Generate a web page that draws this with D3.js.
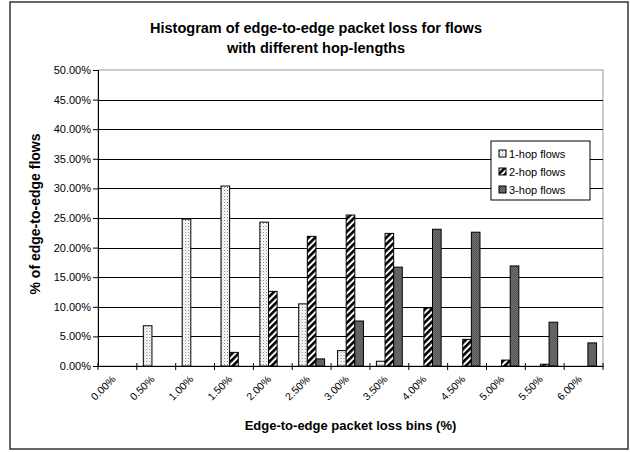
<!DOCTYPE html>
<html>
<head>
<meta charset="utf-8">
<script src="https://cdn.jsdelivr.net/npm/d3@7"></script>
<style>
  body { margin: 0; background: #fff; }
  text { font-family: "Liberation Sans", Arial, sans-serif; fill: #000; }
</style>
</head>
<body>
<div id="chart"></div>
<script>
// data (percent of flows)
var bins = ["0.00%", "0.50%", "1.00%", "1.50%", "2.00%", "2.50%", "3.00%",
            "3.50%", "4.00%", "4.50%", "5.00%", "5.50%", "6.00%"];
var seriesNames = ["1-hop flows", "2-hop flows", "3-hop flows"];
var hop1 = [0, 6.8, 24.8, 30.4, 24.3, 10.5, 2.6, 0.8, 0, 0, 0, 0, 0];
var hop2 = [0, 0, 0, 2.3, 12.6, 21.9, 25.5, 22.4, 9.8, 4.5, 1.0, 0.3, 0];
var hop3 = [0, 0, 0, 0, 0, 1.2, 7.6, 16.7, 23.1, 22.6, 16.9, 7.4, 3.9];
var yTicks = [0, 5, 10, 15, 20, 25, 30, 35, 40, 45, 50];

var W = 630, H = 452;
var margin = {top: 70, right: 27, bottom: 86, left: 98},
    width = W - margin.left - margin.right,
    height = H - margin.top - margin.bottom;

var svg = d3.select("#chart")
  .append("svg")
    .attr("width", W)
    .attr("height", H);

// fill patterns
var defs = svg.append("defs");

var p1 = defs.append("pattern").attr("id", "pat1")
  .attr("patternUnits", "userSpaceOnUse").attr("width", 3).attr("height", 3);
p1.append("rect").attr("width", 3).attr("height", 3).attr("fill", "#fff");
p1.append("rect").attr("x", 0).attr("y", 0).attr("width", 1).attr("height", 1).attr("fill", "#7a7a7a");
p1.append("rect").attr("x", 1.5).attr("y", 1.5).attr("width", 1).attr("height", 1).attr("fill", "#b0b0b0");

var p2 = defs.append("pattern").attr("id", "pat2")
  .attr("patternUnits", "userSpaceOnUse").attr("width", 4.6).attr("height", 10)
  .attr("patternTransform", "rotate(45)");
p2.append("rect").attr("width", 4.6).attr("height", 10).attr("fill", "#fff");
p2.append("rect").attr("width", 2.6).attr("height", 10).attr("fill", "#000");

var p3 = defs.append("pattern").attr("id", "pat3")
  .attr("patternUnits", "userSpaceOnUse").attr("width", 2).attr("height", 2);
p3.append("rect").attr("width", 2).attr("height", 2).attr("fill", "#777");
p3.append("rect").attr("width", 1).attr("height", 1).attr("fill", "#4e4e4e");
p3.append("rect").attr("x", 1).attr("y", 1).attr("width", 1).attr("height", 1).attr("fill", "#4e4e4e");

var fills = ["url(#pat1)", "url(#pat2)", "url(#pat3)"];

// outer chart frame
svg.append("rect")
  .attr("x", 10).attr("y", 2)
  .attr("width", W - 12).attr("height", H - 5)
  .attr("fill", "none")
  .attr("stroke", "#333")
  .attr("stroke-width", 1.5);

var g = svg.append("g")
  .attr("transform", "translate(" + margin.left + "," + margin.top + ")");

// scales
var x0 = d3.scaleBand()
  .domain(bins)
  .range([0, width])
  .paddingInner(1 / 3)
  .paddingOuter(1 / 6);

var x1 = d3.scaleBand()
  .domain(seriesNames)
  .range([0, x0.bandwidth()]);

var y = d3.scaleLinear()
  .domain([0, 50])
  .range([height, 0]);

// plot area border (grey top/right)
g.append("rect")
  .attr("width", width).attr("height", height)
  .attr("fill", "none")
  .attr("stroke", "#999")
  .attr("stroke-width", 1);

// gridlines
g.append("g")
  .selectAll("line")
  .data(yTicks.slice(1, -1))
  .enter().append("line")
    .attr("x1", 0).attr("x2", width)
    .attr("y1", function(d) { return Math.round(y(d)) + 0.5; })
    .attr("y2", function(d) { return Math.round(y(d)) + 0.5; })
    .attr("stroke", "#000")
    .attr("stroke-width", 1);

// bars
var rows = bins.map(function(b, i) {
  return {bin: b, values: [hop1[i], hop2[i], hop3[i]]};
});

var groups = g.append("g")
  .selectAll("g")
  .data(rows)
  .enter().append("g")
    .attr("transform", function(d) { return "translate(" + x0(d.bin) + ",0)"; });

groups.selectAll("rect")
  .data(function(d) {
    return d.values.map(function(v, k) { return {name: seriesNames[k], value: v, k: k}; })
      .filter(function(e) { return e.value > 0; });
  })
  .enter().append("rect")
    .attr("x", function(d) { return x1(d.name); })
    .attr("y", function(d) { return y(d.value); })
    .attr("width", x1.bandwidth())
    .attr("height", function(d) { return height - y(d.value); })
    .attr("fill", function(d) { return fills[d.k]; })
    .attr("stroke", "#000")
    .attr("stroke-width", 1);

// y axis
var yAxis = g.append("g")
  .call(d3.axisLeft(y)
    .tickValues(yTicks)
    .tickSize(5)
    .tickPadding(2)
    .tickFormat(function(d) { return d.toFixed(2) + "%"; }));
yAxis.select(".domain").attr("stroke", "#000");
yAxis.selectAll(".tick line").attr("stroke", "#000");
yAxis.selectAll("text")
  .style("font-size", "11px")
  .attr("fill", "#000");

// x axis: ticks on bin boundaries, labels under the bins
var xAxis = g.append("g")
  .attr("transform", "translate(0," + height + ")")
  .call(d3.axisBottom(x0).tickSize(0).tickFormat(function(d) { return d; }));
xAxis.select(".domain").attr("stroke", "#000");
xAxis.selectAll("text")
  .style("font-size", "10.5px")
  .attr("fill", "#000")
  .attr("text-anchor", "end")
  .attr("dy", null)
  .attr("y", 0)
  .attr("transform", "translate(-1,14) rotate(-45)");

xAxis.selectAll(".bound")
  .data(d3.range(bins.length + 1))
  .enter().append("line")
    .attr("class", "bound")
    .attr("x1", function(i) { return i * x0.step(); })
    .attr("x2", function(i) { return i * x0.step(); })
    .attr("y1", -3).attr("y2", 4)
    .attr("stroke", "#000");

// titles
svg.append("text")
  .attr("x", 316).attr("y", 33)
  .attr("text-anchor", "middle")
  .style("font-size", "14.5px").style("font-weight", "bold")
  .text("Histogram of edge-to-edge packet loss for flows");
svg.append("text")
  .attr("x", 316).attr("y", 53)
  .attr("text-anchor", "middle")
  .style("font-size", "14.5px").style("font-weight", "bold")
  .text("with different hop-lengths");

svg.append("text")
  .attr("x", margin.left + width / 2).attr("y", 430)
  .attr("text-anchor", "middle")
  .style("font-size", "13px").style("font-weight", "bold")
  .text("Edge-to-edge packet loss bins (%)");

svg.append("text")
  .attr("transform", "translate(40,214) rotate(-90)")
  .attr("text-anchor", "middle")
  .style("font-size", "14px").style("font-weight", "bold")
  .text("% of edge-to-edge flows");

// legend
var legend = svg.append("g")
  .attr("transform", "translate(491,141)");
legend.append("rect")
  .attr("width", 99).attr("height", 59)
  .attr("fill", "#fff")
  .attr("stroke", "#000");
var li = legend.selectAll(".li")
  .data(seriesNames)
  .enter().append("g")
    .attr("class", "li")
    .attr("transform", function(d, i) { return "translate(8," + (13 + i * 18) + ")"; });
li.append("rect")
  .attr("x", 0).attr("y", -4)
  .attr("width", 7).attr("height", 7)
  .attr("fill", function(d, i) { return fills[i]; })
  .attr("stroke", "#000");
li.append("text")
  .attr("x", 10).attr("y", 4)
  .style("font-size", "11px")
  .text(function(d) { return d; });
</script>
</body>
</html>
